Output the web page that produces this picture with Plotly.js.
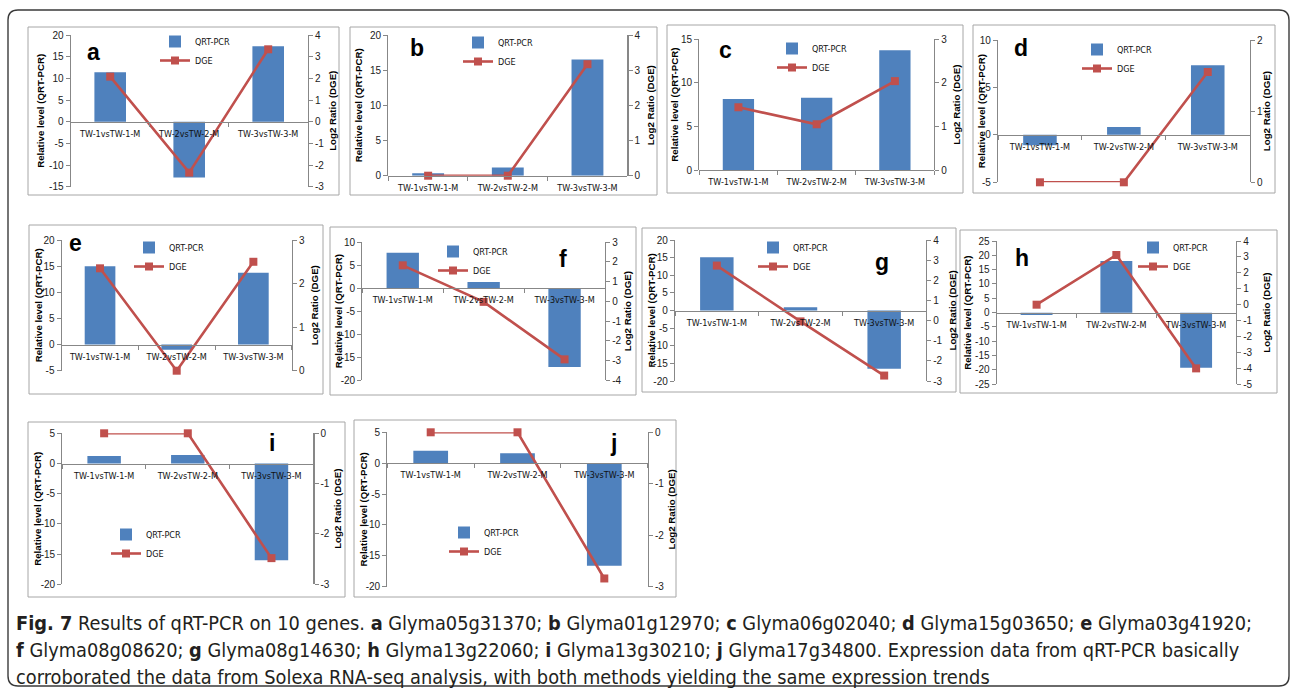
<!DOCTYPE html>
<html><head><meta charset="utf-8">
<script src="https://cdn.plot.ly/plotly-3.0.1.min.js"></script>
<style>html,body{margin:0;padding:0;background:#fff;} #chart{width:1292px;height:693px;}</style>
</head><body><div id="chart"></div>
<script>
// ---- data ----
const categories = ["TW-1vsTW-1-M", "TW-2vsTW-2-M", "TW-3vsTW-3-M"];
const panelLetters = ["a", "b", "c", "d", "e", "f", "g", "h", "i", "j"];
const qrtA = [11.4, -12.9, 17.4];  const dgeA = [2.08, -2.35, 3.34];
const qrtB = [0.35, 1.15, 16.5];   const dgeB = [0, 0, 3.17];
const qrtC = [8.15, 8.3, 13.75];   const dgeC = [1.44, 1.05, 2.04];
const qrtD = [-1.1, 0.84, 7.34];   const dgeD = [0, 0, 1.55];
const qrtE = [15.0, -1.0, 13.75];  const dgeE = [2.35, 0, 2.5];
const qrtF = [7.66, 1.3, -17.1];   const dgeF = [1.82, -0.03, -2.94];
const qrtG = [15.1, 0.9, -16.5];   const dgeG = [2.73, -0.04, -2.73];
const qrtH = [-0.8, 18.0, -19.2];  const dgeH = [0, 3.12, -4.0];
const qrtI = [1.25, 1.4, -16.0];   const dgeI = [0, 0, -2.48];
const qrtJ = [2.0, 1.6, -16.6];    const dgeJ = [0, 0, -2.84];
const qrtSeries = [qrtA, qrtB, qrtC, qrtD, qrtE, qrtF, qrtG, qrtH, qrtI, qrtJ];
const dgeSeries = [dgeA, dgeB, dgeC, dgeD, dgeE, dgeF, dgeG, dgeH, dgeI, dgeJ];
const leftRanges  = [[-15,20],[0,20],[0,15],[-5,10],[-5,20],[-20,10],[-20,20],[-25,25],[-20,5],[-20,5]];
const rightRanges = [[-3,4],[0,4],[0,3],[0,2],[0,3],[-4,3],[-3,4],[-5,4],[-3,0],[-3,0]];
const leftStep = 5, rightStep = 1;
const seriesNames = ["QRT-PCR", "DGE"];
const leftTitle = "Relative level (QRT-PCR)";
const rightTitle = "Log2 Ratio (DGE)";
const captionLines = [
  "<b>Fig. 7</b> Results of qRT-PCR on 10 genes. <b>a</b> Glyma05g31370; <b>b</b> Glyma01g12970; <b>c</b> Glyma06g02040; <b>d</b> Glyma15g03650; <b>e</b> Glyma03g41920;",
  "<b>f</b> Glyma08g08620; <b>g</b> Glyma08g14630; <b>h</b> Glyma13g22060; <b>i</b> Glyma13g30210; <b>j</b> Glyma17g34800. Expression data from qRT-PCR basically",
  "corroborated the data from Solexa RNA-seq analysis, with both methods yielding the same expression trends"];

// ---- layout geometry (pixels) ----
const W = 1292, H = 693;
const plots = [ // x0, x1, yTop, yBottom
  [70.7,307.7,35,186.7], [388.3,627.3,35,175.7], [699.3,934,39.3,170], [998,1249.7,40,182.3],
  [61.7,291.7,240,370.7], [362.3,605,242,380.3], [675,926,240,381], [996.7,1236,241,384.3],
  [62.3,313.3,433.3,584.3], [387.3,647.7,432.3,586.7]];
const frames = [
  [28,339,27,195], [350,657,27,195], [667,963,25,193], [973,1275,25,193],
  [29,323,225,394], [330,636,227,395], [642,956,228,392], [960,1277,230,393],
  [28,345,422,597], [354,676,420,597]];
const letterPos = [[93,52],[417,48],[725,50],[1021,48],[75,243],[563,259],[882,262],[1022,258],[272,443],[613,443]];
const legendPos = [[155,42],[458,43],[772,49],[1077,50],[129,248],[433,252],[753,248],[1133,248],[106,535],[444,533]];
const leftTitleX = [41,358,675,981,38,338,651,968,38,363];
const rightTitleX = [333,650,957,1266,314,627,952,1267,338,671];
const captionY = [623.5, 650.5, 677];

const NARROW = "'DejaVu Sans Condensed', 'Liberation Sans Narrow', sans-serif";
const SANS = "'Liberation Sans', Arial, sans-serif";
const AXIS_COLOR = '#878787';
const px = v => v / W;
const py = v => 1 - v / H;

function ticksFor(r, step) {
  const vals = [], text = [];
  for (let v = r[0]; v <= r[1] + 1e-9; v += step) { vals.push(v); text.push(String(v)); }
  return {vals, text};
}

const traces = [];
const layout = {
  width: W, height: H, margin: {l:0, r:0, t:0, b:0},
  paper_bgcolor: '#fff', plot_bgcolor: 'rgba(0,0,0,0)',
  bargap: 0.6, showlegend: true,
  shapes: [], annotations: []
};

for (let k = 0; k < 10; k++) {
  const xs = k === 0 ? '' : String(k + 1);
  const xa = 'x' + xs;
  const ylNum = 2 * k + 1, yrNum = 2 * k + 2;
  const yl = ylNum === 1 ? 'y' : 'y' + ylNum;
  const yr = 'y' + yrNum;
  const legId = k === 0 ? 'legend' : 'legend' + (k + 1);
  const [x0, x1, yT, yB] = plots[k];
  const dom = [py(yB), py(yT)];
  const lr = leftRanges[k], rr = rightRanges[k];
  const zeroPos = dom[0] + (0 - lr[0]) / (lr[1] - lr[0]) * (dom[1] - dom[0]);

  traces.push({
    type: 'bar', x: categories, y: qrtSeries[k], xaxis: xa, yaxis: yl,
    name: seriesNames[0], legend: legId, marker: {color: '#4F81BD'}, hoverinfo: 'skip'
  });
  traces.push({
    type: 'scatter', mode: 'lines+markers', x: categories, y: dgeSeries[k], xaxis: xa, yaxis: yr,
    name: seriesNames[1], legend: legId, cliponaxis: false,
    line: {color: '#C0504D', width: 2.6}, marker: {symbol: 'square', size: 8, color: '#C0504D'}, hoverinfo: 'skip'
  });

  layout['xaxis' + xs] = {
    domain: [px(x0), px(x1)], anchor: 'free', position: zeroPos, type: 'category',
    range: [-0.5, 2.5], showline: true, linecolor: AXIS_COLOR, linewidth: 1.2,
    ticks: 'outside', tickson: 'boundaries', ticklen: 4, tickcolor: AXIS_COLOR, tickangle: 0,
    ticklabelstandoff: 3,
    tickfont: {family: NARROW, size: 9, color: '#111'}, showgrid: false, zeroline: false, fixedrange: true
  };
  const lt = ticksFor(lr, leftStep), rt = ticksFor(rr, rightStep);
  layout['yaxis' + (ylNum === 1 ? '' : ylNum)] = {
    domain: dom, anchor: xa, range: lr, tickmode: 'array', tickvals: lt.vals, ticktext: lt.text,
    showline: true, linecolor: AXIS_COLOR, linewidth: 1.2, ticks: 'outside', ticklen: 4, tickcolor: AXIS_COLOR,
    tickfont: {family: SANS, size: 10, color: '#222'}, showgrid: false, zeroline: false, fixedrange: true
  };
  layout['yaxis' + yrNum] = {
    overlaying: yl, side: 'right', anchor: xa, range: rr, tickmode: 'array', tickvals: rt.vals, ticktext: rt.text,
    showline: true, linecolor: AXIS_COLOR, linewidth: 1.2, ticks: 'outside', ticklen: 4, tickcolor: AXIS_COLOR,
    tickfont: {family: SANS, size: 10, color: '#222'}, showgrid: false, zeroline: false, fixedrange: true
  };
  layout[legId] = {
    x: px(legendPos[k][0]), y: py(legendPos[k][1] - 15), xanchor: 'left', yanchor: 'top',
    bgcolor: 'rgba(0,0,0,0)', borderwidth: 0, font: {family: NARROW, size: 9, color: '#111'},
    itemwidth: 30, tracegroupgap: 0, traceorder: 'normal'
  };

  const f = frames[k];
  layout.shapes.push({type: 'rect', xref: 'paper', yref: 'paper', x0: px(f[0]), x1: px(f[1]), y0: py(f[3]), y1: py(f[2]),
    line: {color: '#A6A6A6', width: 1}, fillcolor: 'rgba(0,0,0,0)', layer: 'below'});

  const midY = py((yT + yB) / 2);
  layout.annotations.push({xref: 'paper', yref: 'paper', x: px(letterPos[k][0]), y: py(letterPos[k][1]),
    text: '<b>' + panelLetters[k] + '</b>', showarrow: false, xanchor: 'center', yanchor: 'middle',
    font: {family: SANS, size: 23, color: '#000'}});
  layout.annotations.push({xref: 'paper', yref: 'paper', x: px(leftTitleX[k]), y: midY, textangle: -90,
    text: '<b>' + leftTitle + '</b>', showarrow: false, xanchor: 'center', yanchor: 'middle',
    font: {family: SANS, size: 9.7, color: '#000'}});
  layout.annotations.push({xref: 'paper', yref: 'paper', x: px(rightTitleX[k]), y: midY, textangle: -90,
    text: '<b>' + rightTitle + '</b>', showarrow: false, xanchor: 'center', yanchor: 'middle',
    font: {family: SANS, size: 9.7, color: '#000'}});
}

// outer rounded border
(function () {
  const L = 8, T = 10, R = 1289, B = 686, r = 10;
  const P = (x, y) => px(x).toFixed(5) + ',' + py(y).toFixed(5);
  const path = 'M' + P(L + r, T) + ' L' + P(R - r, T) + ' Q' + P(R, T) + ' ' + P(R, T + r) +
    ' L' + P(R, B - r) + ' Q' + P(R, B) + ' ' + P(R - r, B) + ' L' + P(L + r, B) +
    ' Q' + P(L, B) + ' ' + P(L, B - r) + ' L' + P(L, T + r) + ' Q' + P(L, T) + ' ' + P(L + r, T) + ' Z';
  layout.shapes.push({type: 'path', xref: 'paper', yref: 'paper', path: path, line: {color: '#3a3a3a', width: 1.4}, layer: 'below'});
})();

captionLines.forEach((t, i) => {
  layout.annotations.push({xref: 'paper', yref: 'paper', x: px(14), y: py(captionY[i]), xanchor: 'left', yanchor: 'middle',
    align: 'left', showarrow: false, text: t, font: {family: NARROW, size: 19.8, color: '#231F20'}});
});

Plotly.newPlot('chart', traces, layout, {displayModeBar: false, staticPlot: true});
</script>
</body></html>
